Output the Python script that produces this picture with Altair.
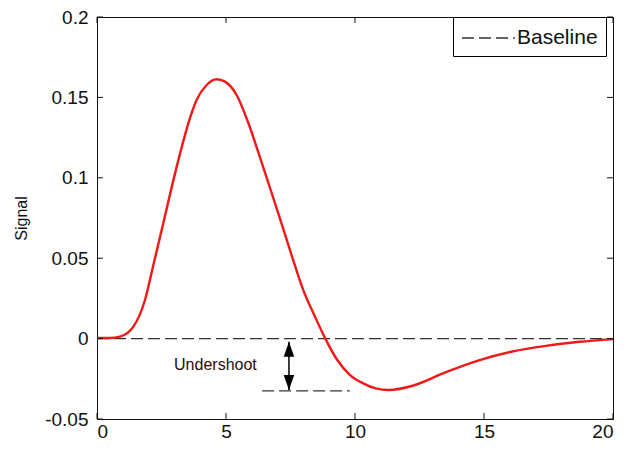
import altair as alt
import pandas as pd

# ---- data ----
time_s = [0, 0.5, 0.89, 1.41, 1.86, 2.18, 2.57, 2.9, 3.22, 3.54, 3.86, 4.25, 4.64,
          4.96, 5.41, 5.87, 6.25, 6.71, 7.16, 7.55, 8.0, 8.45, 8.85, 9.3, 9.8,
          10.3, 10.8, 11.3, 12.3, 13.5, 14.8, 16.1, 17.4, 18.7, 20]
signal = [0.0004, 0.0004, 0.0012, 0.0074, 0.024, 0.0455, 0.0718, 0.0945, 0.1152,
          0.1339, 0.1484, 0.1577, 0.1613, 0.1598, 0.1515, 0.1339, 0.116, 0.0935,
          0.0712, 0.0515, 0.030, 0.0136, 0.0, -0.013, -0.0225, -0.0277, -0.031,
          -0.032, -0.029, -0.021, -0.0135, -0.008, -0.0045, -0.002, -0.0003]

x_ticks = [0, 5, 10, 15, 20]
y_ticks = [-0.05, 0, 0.05, 0.1, 0.15, 0.2]
x_range = [0, 20]
y_range = [-0.05, 0.2]

baseline_label = ["Baseline"]
baseline_level = [0.0]
y_title = "Signal"

undershoot_level = [-0.0325]
undershoot_span = [6.4, 9.8]
arrow_time = [7.44]
arrow_top = [-0.002]
arrow_bottom = [-0.032]
note_text = ["Undershoot"]
note_time = [4.59]
note_signal = [-0.0164]

FONT = "Liberation Sans"
TXT = "#111111"
DASH = "#333333"
TITLE_SIZE = 16

curve_df = pd.DataFrame({"time": time_s, "signal": signal})
base_df = pd.DataFrame({"time": [x_range[0]], "time2": [x_range[1]],
                        "signal": baseline_level, "label": baseline_label})
under_df = pd.DataFrame({"time": [undershoot_span[0]], "time2": [undershoot_span[1]],
                         "signal": undershoot_level})
arrow_df = pd.DataFrame({"time": arrow_time, "top": arrow_top, "bottom": arrow_bottom})
note_df = pd.DataFrame({"time": note_time, "signal": note_signal, "note": note_text})
xt_df = pd.DataFrame({"time": x_ticks, "lo": [y_range[0]] * len(x_ticks),
                      "hi": [y_range[1]] * len(x_ticks)})
yt_df = pd.DataFrame({"signal": y_ticks, "lo": [x_range[0]] * len(y_ticks),
                      "hi": [x_range[1]] * len(y_ticks)})

xscale = alt.Scale(domain=x_range, nice=False, zero=False)
yscale = alt.Scale(domain=y_range, nice=False, zero=False)
xaxis = alt.Axis(values=x_ticks, title=None, labelPadding=3, labelExpr="'' + datum.value")
yaxis = alt.Axis(values=y_ticks, title=y_title, labelPadding=9,
                 labelExpr="'' + datum.value", titlePadding=15,
                 titleFontSize=TITLE_SIZE, titleFont=FONT, titleColor=TXT,
                 titleFontWeight="normal", titleLimit=300)

X = alt.X("time:Q", scale=xscale, axis=xaxis)
Y = alt.Y("signal:Q", scale=yscale, axis=yaxis, title=y_title)


def Yf(field):
    return alt.Y(field, scale=yscale, axis=yaxis, title=y_title)


def Xf(field):
    return alt.X(field, scale=xscale, axis=xaxis)


baseline = alt.Chart(base_df).mark_rule(color=DASH, strokeWidth=1.3).encode(
    x=X, x2="time2:Q", y=Y,
    strokeDash=alt.StrokeDash(
        "label:N",
        scale=alt.Scale(domain=baseline_label, range=[[12, 5]]),
        legend=alt.Legend(
            title=None, orient="none", legendX=356, legendY=0,
            symbolType="M-1,0 L3.4,0", symbolSize=576, symbolStrokeColor=DASH,
            symbolFillColor="transparent",
            symbolStrokeWidth=1.3, symbolDash=[12, 8.5],
            labelFont=FONT, labelFontSize=21, labelColor=TXT, labelOffset=30,
            strokeColor="#000000", fillColor="#ffffff", padding=8, cornerRadius=0,
        ),
    ),
)

under = alt.Chart(under_df).mark_rule(color=DASH, strokeWidth=1.3, strokeDash=[12, 5]).encode(
    x=X, x2="time2:Q", y=Y
)

curve = alt.Chart(curve_df).mark_line(color="#f01818", strokeWidth=2.4,
                                      interpolate="monotone").encode(x=X, y=Y)

shaft = alt.Chart(arrow_df).mark_rule(color="#000000", strokeWidth=1.5).encode(
    x=X, y=Yf("top:Q"), y2="bottom:Q"
)
head_up = alt.Chart(arrow_df).mark_point(
    shape="M0,0 L-0.35,1 L0.35,1 Z", filled=True, size=900, color="#000000", opacity=1
).encode(x=X, y=Yf("top:Q"))
head_down = alt.Chart(arrow_df).mark_point(
    shape="M0,0 L-0.35,-1 L0.35,-1 Z", filled=True, size=900, color="#000000", opacity=1
).encode(x=X, y=Yf("bottom:Q"))

note = alt.Chart(note_df).mark_text(font=FONT, fontSize=16, color="#2a0c0c").encode(
    x=X, y=Y, text="note:N"
)

TICK = "#111111"
tick_bottom = alt.Chart(xt_df).mark_rule(color=TICK, y2Offset=-6).encode(
    x=X, y=Yf("lo:Q"), y2="lo:Q")
tick_top = alt.Chart(xt_df).mark_rule(color=TICK, y2Offset=6).encode(
    x=X, y=Yf("hi:Q"), y2="hi:Q")
tick_left = alt.Chart(yt_df).mark_rule(color=TICK, x2Offset=6).encode(
    y=Y, x=Xf("lo:Q"), x2="lo:Q")
tick_right = alt.Chart(yt_df).mark_rule(color=TICK, x2Offset=-6).encode(
    y=Y, x=Xf("hi:Q"), x2="hi:Q")

axis_common = dict(
    domain=False, ticks=False, grid=False,
    labelFont=FONT, labelFontSize=19, labelColor=TXT,
    titleFont=FONT, titleFontSize=TITLE_SIZE, titleColor=TXT, titleFontWeight="normal",
)

chart = alt.layer(
    baseline, under, curve, shaft, head_up, head_down, note,
    tick_bottom, tick_top, tick_left, tick_right,
).properties(
    width=516, height=402,
    autosize=alt.AutoSizeParams(type="none"),
    padding={"left": 89, "top": 9, "right": 4, "bottom": 24},
    background="#ffffff",
).configure(
    view=alt.ViewConfig(stroke="#111111", strokeWidth=1),
    axis=alt.AxisConfig(**axis_common),
    axisY=alt.AxisConfig(titleFontSize=TITLE_SIZE),
    axisLeft=alt.AxisConfig(titleFontSize=TITLE_SIZE),
    axisQuantitative=alt.AxisConfig(titleFontSize=TITLE_SIZE),
    style={"guide-title": {"fontSize": TITLE_SIZE, "font": FONT, "fontWeight": "normal"}},
)

chart.save("out.html", embed_options={"renderer": "svg", "actions": False})
